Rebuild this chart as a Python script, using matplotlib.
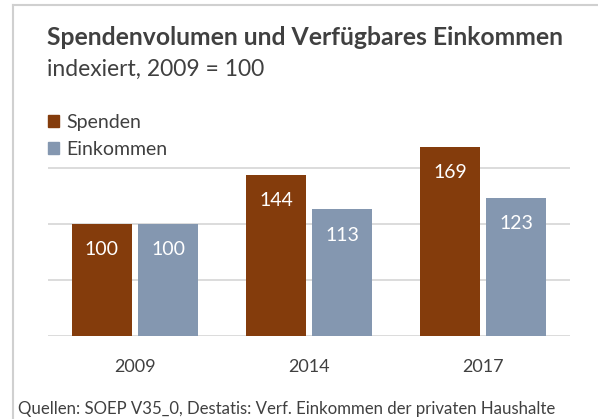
import matplotlib.pyplot as plt
import matplotlib.patches as mpatches
from matplotlib.lines import Line2D
import numpy as np

plt.rcParams['font.family'] = ['Lato', 'DejaVu Sans']

years = ['2009', '2014', '2017']
spenden = [100, 144, 169]
einkommen = [100, 113, 123]

SPENDEN_COLOR = '#843C0C'
EINKOMMEN_COLOR = '#8497B0'
TEXT_COLOR = '#404040'
GRID_COLOR = '#D9D9D9'
BAR_WIDTH = 0.345
OFFSET = 0.19

fig = plt.figure(figsize=(5.98, 4.19), dpi=100)
ax = fig.add_axes((0.0803, 0.198, 0.8727, 0.4678))

x = np.arange(len(years))
bars_s = ax.bar(x - OFFSET, spenden, width=BAR_WIDTH, color=SPENDEN_COLOR, zorder=3, clip_on=False)
bars_e = ax.bar(x + OFFSET, einkommen, width=BAR_WIDTH, color=EINKOMMEN_COLOR, zorder=3, clip_on=False)

for bars in (bars_s, bars_e):
    for b in bars:
        ax.annotate(f'{b.get_height():.0f}', (b.get_x() + b.get_width() / 2, b.get_height()),
                    xytext=(0, -18.5), textcoords='offset points', ha='center', va='center',
                    color='white', fontsize=14, zorder=4)

ax.set_xlim(-0.5, 2.5)
ax.set_ylim(0, 175)
ax.set_yticks([0, 50, 100, 150])
ax.yaxis.grid(True, color=GRID_COLOR, linewidth=1.3, zorder=0)
ax.set_axisbelow(True)
ax.tick_params(axis='y', left=False, labelleft=False)
ax.tick_params(axis='x', bottom=False, labelsize=13, labelcolor=TEXT_COLOR, pad=13)
ax.set_xticks(x)
ax.set_xticklabels(years)
for s in ax.spines.values():
    s.set_visible(False)

fig.text(0.0786, 0.893, 'Spendenvolumen und Verfügbares Einkommen', fontsize=17.8,
         fontweight='bold', color=TEXT_COLOR, va='baseline')
fig.text(0.0786, 0.818, 'indexiert, 2009 = 100', fontsize=16.5, color=TEXT_COLOR, va='baseline')

handles = [mpatches.Patch(color=SPENDEN_COLOR, label='Spenden'),
           mpatches.Patch(color=EINKOMMEN_COLOR, label='Einkommen')]
fig.legend(handles=handles, loc='upper left', bbox_to_anchor=(0.08, 0.728), frameon=False,
           fontsize=14, handlelength=0.55, handleheight=0.55, handletextpad=0.4,
           labelspacing=0.5, labelcolor=TEXT_COLOR, borderaxespad=0, borderpad=0)

fig.text(0.03, 0.013, 'Quellen: SOEP V35_0, Destatis: Verf. Einkommen der privaten Haushalte',
         fontsize=12.1, color=TEXT_COLOR, va='baseline')

# frame lines (left and top)
fig.add_artist(Line2D([0.022, 0.022], [0.0, 0.988], color='#D0D0D0', linewidth=1.5))
fig.add_artist(Line2D([0.022, 1.0], [0.988, 0.988], color='#D0D0D0', linewidth=1.5))

plt.savefig('out.png', dpi=100)
